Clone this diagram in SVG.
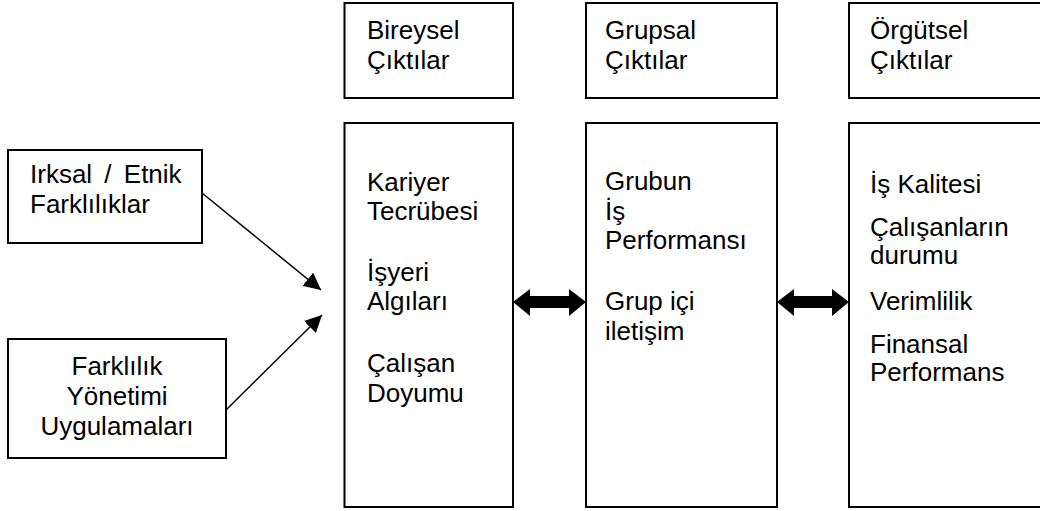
<svg xmlns="http://www.w3.org/2000/svg" width="1040" height="511" viewBox="0 0 1040 511">
<defs>
<style>
.box{fill:#fff;stroke:#000;stroke-width:2}
.t{font-family:"Liberation Sans",Arial,sans-serif;font-size:26px;fill:#000}
.c{text-anchor:middle}
.ln{stroke:#000;stroke-width:1.5;fill:none}
</style>
<marker id="ah" viewBox="0 0 10 10" refX="10" refY="5" markerWidth="17" markerHeight="17" markerUnits="userSpaceOnUse" orient="auto">
<path d="M0,0 L10,5 L0,10 z" fill="#000"/>
</marker>
</defs>
<rect width="1040" height="511" fill="#fff"/>
<g id="bireysel-baslik">
<rect class="box" x="344.5" y="3" width="168.5" height="95"/>
<text class="t" x="367" y="39">Bireysel</text>
<text class="t" x="367" y="69">Çıktılar</text>
</g>
<g id="grupsal-baslik">
<rect class="box" x="586" y="3" width="191" height="95"/>
<text class="t" x="605" y="39">Grupsal</text>
<text class="t" x="605" y="69">Çıktılar</text>
</g>
<g id="orgutsel-baslik">
<rect class="box" x="849" y="3" width="200" height="95"/>
<text class="t" x="870" y="39">Örgütsel</text>
<text class="t" x="870" y="69">Çıktılar</text>
</g>
<g id="irksal">
<rect class="box" x="8" y="150" width="194" height="93"/>
<text class="t" x="30" y="183" word-spacing="5">Irksal / Etnik</text>
<text class="t" x="30" y="213">Farklılıklar</text>
</g>
<g id="farklilik-yonetimi">
<rect class="box" x="8" y="339" width="218" height="119"/>
<text class="t c" x="117" y="375">Farklılık</text>
<text class="t c" x="117" y="405">Yönetimi</text>
<text class="t c" x="117" y="435">Uygulamaları</text>
</g>
<g id="bireysel">
<rect class="box" x="344.5" y="123" width="168.5" height="384"/>
<text class="t" x="367" y="191">Kariyer</text>
<text class="t" x="367" y="220">Tecrübesi</text>
<text class="t" x="367" y="281">İşyeri</text>
<text class="t" x="367" y="310">Algıları</text>
<text class="t" x="367" y="372">Çalışan</text>
<text class="t" x="367" y="402">Doyumu</text>
</g>
<g id="grupsal">
<rect class="box" x="586" y="123" width="191" height="384"/>
<text class="t" x="605" y="190">Grubun</text>
<text class="t" x="605" y="220">İş</text>
<text class="t" x="605" y="249">Performansı</text>
<text class="t" x="605" y="310">Grup içi</text>
<text class="t" x="605" y="340">iletişim</text>
</g>
<g id="orgutsel">
<rect class="box" x="849" y="123" width="200" height="384"/>
<text class="t" x="870" y="193">İş Kalitesi</text>
<text class="t" x="870" y="236">Çalışanların</text>
<text class="t" x="870" y="264">durumu</text>
<text class="t" x="870" y="310">Verimlilik</text>
<text class="t" x="870" y="353">Finansal</text>
<text class="t" x="870" y="381">Performans</text>
</g>
<g id="connectors">
<line class="ln" x1="202" y1="193" x2="321" y2="290" marker-end="url(#ah)"/>
<line class="ln" x1="226" y1="410" x2="322" y2="315" marker-end="url(#ah)"/>
<polygon fill="#000" points="513,302 530,289 530,296 569,296 569,289 586,302 569,316 569,308 530,308 530,316"/>
<polygon fill="#000" points="777,302 794,289 794,296 832,296 832,289 849,302 832,316 832,308 794,308 794,316"/>
</g>
</svg>
